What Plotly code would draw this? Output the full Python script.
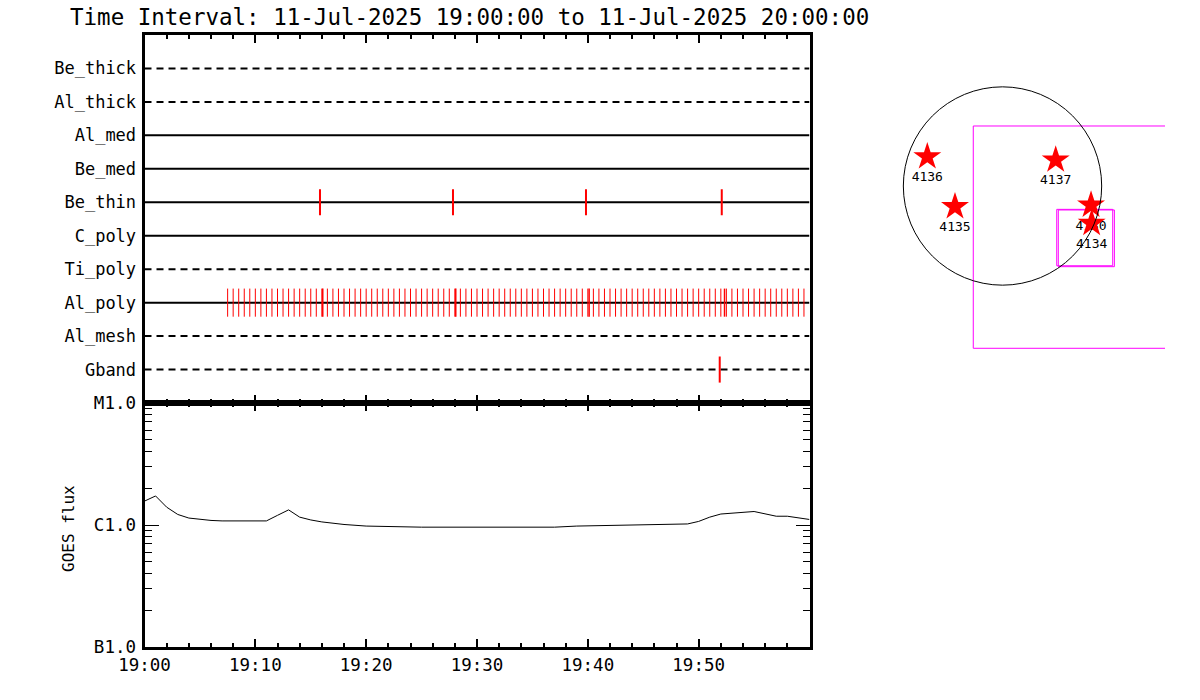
import plotly.graph_objects as go

W, H = 1200, 700
DAY = "2025-07-11 "

# ---------------- data ----------------
TITLE = "Time Interval: 11-Jul-2025 19:00:00 to 11-Jul-2025 20:00:00"

ROW_LABELS = ["Be_thick", "Al_thick", "Al_med", "Be_med", "Be_thin",
              "C_poly", "Ti_poly", "Al_poly", "Al_mesh", "Gband"]
ROW_DASHED = [True, True, False, False, False, False, True, False, True, True]

BE_THIN_TIMES = ["19:15:50", "19:27:50", "19:39:50", "19:52:05"]
GBAND_TIMES = ["19:51:54"]
AL_POLY_TIMES = [
    "19:07:30",
    "19:08:00", "19:08:30", "19:09:00", "19:09:30", "19:10:00", "19:10:30",
    "19:11:00", "19:11:30", "19:12:00", "19:12:30", "19:13:00", "19:13:30",
    "19:14:00", "19:14:30", "19:15:00", "19:15:30", "19:16:00", "19:16:30",
    "19:17:00", "19:17:30", "19:18:00", "19:18:30", "19:19:00", "19:19:30",
    "19:20:00", "19:20:30", "19:21:00", "19:21:30", "19:22:00", "19:22:30",
    "19:23:00", "19:23:30", "19:24:00", "19:24:30", "19:25:00", "19:25:30",
    "19:26:00", "19:26:30", "19:27:00", "19:27:30", "19:28:00", "19:28:30",
    "19:29:00", "19:29:30", "19:30:00", "19:30:30", "19:31:00", "19:31:30",
    "19:32:00", "19:32:30", "19:33:00", "19:33:30", "19:34:00", "19:34:30",
    "19:35:00", "19:35:30", "19:36:00", "19:36:30", "19:37:00", "19:37:30",
    "19:38:00", "19:38:30", "19:39:00", "19:39:30", "19:40:00", "19:40:30",
    "19:41:00", "19:41:30", "19:42:00", "19:42:30", "19:43:00", "19:43:30",
    "19:44:00", "19:44:30", "19:45:00", "19:45:30", "19:46:00", "19:46:30",
    "19:47:00", "19:47:30", "19:48:00", "19:48:30", "19:49:00", "19:49:30",
    "19:50:00", "19:50:30", "19:51:00", "19:51:30", "19:52:00", "19:52:30",
    "19:53:00", "19:53:30", "19:54:00", "19:54:30", "19:55:00", "19:55:30",
    "19:56:00", "19:56:30", "19:57:00", "19:57:30", "19:58:00", "19:58:30",
    "19:59:00", "19:59:30",
]
AL_POLY_EXTRA_TIMES = ["19:16:05", "19:28:05", "19:40:07", "19:52:20"]

GOES_TIMES = ["19:00", "19:01", "19:02", "19:03", "19:04", "19:05", "19:06",
              "19:07", "19:09", "19:11", "19:12", "19:13", "19:14", "19:15",
              "19:16", "19:17", "19:18", "19:20", "19:25", "19:30", "19:37",
              "19:39", "19:42", "19:47", "19:49", "19:50", "19:51", "19:52",
              "19:53", "19:55", "19:57", "19:58", "20:00"]
GOES_FLUX = [1.57e-6, 1.73e-6, 1.40e-6, 1.22e-6, 1.14e-6, 1.11e-6, 1.09e-6,
             1.08e-6, 1.08e-6, 1.08e-6, 1.20e-6, 1.33e-6, 1.16e-6, 1.10e-6,
             1.06e-6, 1.03e-6, 1.01e-6, 0.98e-6, 0.96e-6, 0.96e-6, 0.96e-6,
             0.98e-6, 0.99e-6, 1.00e-6, 1.02e-6, 1.07e-6, 1.16e-6, 1.23e-6,
             1.25e-6, 1.29e-6, 1.18e-6, 1.18e-6, 1.11e-6]
GOES_TICKVALS = [1e-7, 1e-6, 1e-5]
GOES_TICKTEXT = ["B1.0", "C1.0", "M1.0"]
GOES_MINOR = [2e-7, 3e-7, 4e-7, 5e-7, 6e-7, 7e-7, 8e-7, 9e-7,
              2e-6, 3e-6, 4e-6, 5e-6, 6e-6, 7e-6, 8e-6, 9e-6]
TIME_TICKS = ["19:00", "19:10", "19:20", "19:30", "19:40", "19:50"]

# solar map (arcsec)
SUN_RADIUS = 960
AR_IDS = ["4136", "4135", "4137", "4130", "4134"]
AR_X = [-728, -460, 515, 857, 863]
AR_Y = [284, -200, 252, -184, -361]
FOV_LARGE = [-283, 1700, -1571, 581]     # x0, x1, y0, y1
FOV_SMALL_A = [525, 1067, -772, -226]
FOV_SMALL_B = [540, 1083, -781, -232]

# ---------------- figure ----------------
def px_x(p):
    return p / W


def px_y(p):
    return 1 - p / H


MONO = "DejaVu Sans Mono"
fig = go.Figure()
nrows = len(ROW_LABELS)
row_val = {lab: nrows - i for i, lab in enumerate(ROW_LABELS)}
T0, T1 = DAY + "19:00:00", DAY + "20:00:00"

# row lines
for lab, dashed in zip(ROW_LABELS, ROW_DASHED):
    yv = row_val[lab]
    fig.add_trace(go.Scatter(
        x=[T0, T1], y=[yv, yv], mode="lines", xaxis="x", yaxis="y",
        line=dict(color="black", width=2, dash="7px,5px" if dashed else "solid"),
        hoverinfo="skip", showlegend=False))


def tick_trace(times, lab, half, width):
    xs, ys = [], []
    yv = row_val[lab]
    for t in times:
        xs += [DAY + t, DAY + t, None]
        ys += [yv - half, yv + half, None]
    return go.Scatter(x=xs, y=ys, mode="lines", xaxis="x", yaxis="y",
                      line=dict(color="red", width=width),
                      hoverinfo="skip", showlegend=False)


fig.add_trace(tick_trace(AL_POLY_TIMES, "Al_poly", 0.42, 1))
fig.add_trace(tick_trace(AL_POLY_EXTRA_TIMES, "Al_poly", 0.42, 1.5))
fig.add_trace(tick_trace(BE_THIN_TIMES, "Be_thin", 0.39, 2))
fig.add_trace(tick_trace(GBAND_TIMES, "Gband", 0.39, 2))

# GOES
fig.add_trace(go.Scatter(
    x=[DAY + t for t in GOES_TIMES], y=GOES_FLUX, mode="lines",
    xaxis="x2", yaxis="y2", line=dict(color="black", width=1),
    showlegend=False))

# map: FOV rectangles
for rect in (FOV_LARGE, FOV_SMALL_A, FOV_SMALL_B):
    x0, x1, y0, y1 = rect
    fig.add_trace(go.Scatter(
        x=[x0, x1, x1, x0, x0], y=[y0, y0, y1, y1, y0], mode="lines",
        xaxis="x3", yaxis="y3", line=dict(color="#FF00FF", width=1),
        hoverinfo="skip", showlegend=False))

# labels then stars (stars on top)
fig.add_trace(go.Scatter(
    x=AR_X, y=AR_Y, mode="markers+text", text=AR_IDS,
    textposition="bottom center",
    marker=dict(size=22, color="rgba(0,0,0,0)"),
    textfont=dict(family=MONO, size=13, color="black"),
    xaxis="x3", yaxis="y3", showlegend=False, hoverinfo="skip"))
fig.add_trace(go.Scatter(
    x=AR_X, y=AR_Y, mode="markers",
    marker=dict(symbol="star", size=21, color="red", line=dict(width=0)),
    xaxis="x3", yaxis="y3", showlegend=False))

fig.add_shape(type="circle", xref="x3", yref="y3",
              x0=-SUN_RADIUS, x1=SUN_RADIUS, y0=-SUN_RADIUS, y1=SUN_RADIUS,
              line=dict(color="black", width=1))

xdom = [px_x(144.5), px_x(809.5)]

common_x = dict(
    domain=xdom, type="date", range=[T0, T1], showgrid=False, zeroline=False,
    showline=True, linecolor="black", linewidth=3, mirror="ticks",
    ticks="inside", ticklen=8, tickwidth=2, tickcolor="black",
    tickmode="array", tickvals=[DAY + t for t in TIME_TICKS], ticktext=TIME_TICKS,
    minor=dict(ticks="inside", ticklen=4, tickwidth=2, tickcolor="black",
               dtick=120000, tick0=T0, showgrid=False),
    automargin=False,
)

fig.update_layout(
    width=W, height=H, margin=dict(l=0, r=0, t=0, b=0, autoexpand=False),
    paper_bgcolor="white", plot_bgcolor="white",
    font=dict(family=MONO, size=17, color="black"),
    showlegend=False,
    xaxis=dict(**common_x, anchor="y", showticklabels=False),
    yaxis=dict(domain=[px_y(403), px_y(35)], range=[0, nrows + 1],
               tickvals=[row_val[l] for l in ROW_LABELS], ticktext=ROW_LABELS,
               ticks="", showline=True, linecolor="black", linewidth=3,
               mirror=True, showgrid=False, zeroline=False,
               tickfont=dict(family=MONO, size=17), ticklabelstandoff=2,
               automargin=False),
    xaxis2=dict(**common_x, anchor="y2", tickfont=dict(family=MONO, size=17.5),
                ticklabelstandoff=0),
    yaxis2=dict(domain=[px_y(647), px_y(403)], type="log", range=[-7, -5],
                tickvals=GOES_TICKVALS, ticktext=GOES_TICKTEXT,
                ticks="inside", ticklen=14, tickwidth=1, tickcolor="black",
                minor=dict(ticks="inside", ticklen=7, tickwidth=1,
                           tickcolor="black", tickvals=GOES_MINOR),
                showline=True, linecolor="black", linewidth=3, mirror="ticks",
                showgrid=False, zeroline=False,
                tickfont=dict(family=MONO, size=17.5),
                ticklabelstandoff=2, anchor="x2", automargin=False),
    xaxis3=dict(domain=[px_x(885), px_x(1165)], range=[-1137.5, 1573],
                visible=False, anchor="y3", automargin=False),
    yaxis3=dict(domain=[px_y(400), px_y(60)], range=[-2071.6, 1219.8],
                visible=False, anchor="x3", automargin=False),
)

fig.add_annotation(text=TITLE, xref="paper", yref="paper", x=px_x(68),
                   y=px_y(17), xanchor="left", yanchor="middle",
                   showarrow=False,
                   font=dict(family=MONO, size=22.5, color="black"))
fig.add_annotation(text="GOES flux", xref="paper", yref="paper",
                   x=px_x(68), y=px_y(529), textangle=-90,
                   xanchor="center", yanchor="middle", showarrow=False,
                   font=dict(family=MONO, size=16, color="black"))

fig.write_html("out.html",
               config={"displayModeBar": False},
               post_script="document.body.style.margin='0';")
